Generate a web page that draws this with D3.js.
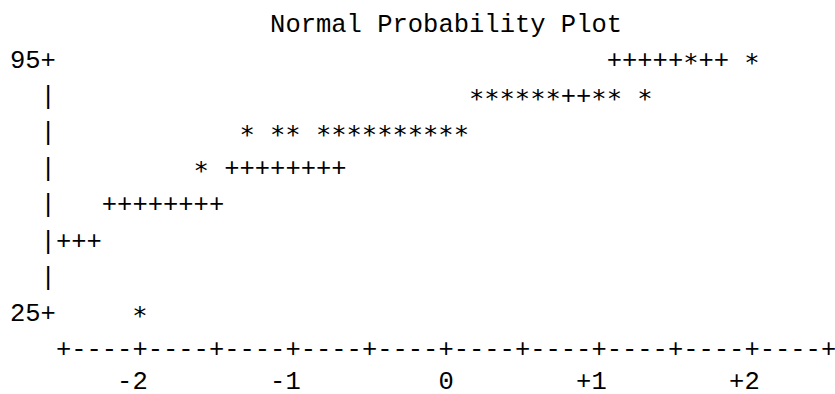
<!DOCTYPE html>
<html>
 <head>
  <title>Normal Probability Plot</title>
  <script src="https://cdnjs.cloudflare.com/ajax/libs/d3/7.8.3/d3.min.js"></script>
  <style>
   body { margin: 0; background: #fff; }
   text { font-family: "Liberation Mono", "DejaVu Sans Mono", monospace; font-size: 25.5px; fill: #000; }
   text.obs { font-family: "DejaVu Sans Mono", monospace; }
  </style>
 </head>
 <body>
  <script>
   const title = "Normal Probability Plot";

   // y tick labels and the value of each text row
   const yTicks = [95, 25];
   const yRows = [95, 85, 75, 65, 55, 45, 35, 25];

   // x tick values and their labels
   const xTicks = [-2, -1, 0, 1, 2];
   const xLabels = ["-2", "-1", "0", "+1", "+2"];

   // observations (*): normal quantile and value
   const obsQ = [1.6, 2.0,
                 0.2, 0.3, 0.4, 0.5, 0.6, 0.7, 1.0, 1.1, 1.3,
                 -1.3, -1.1, -1.0, -0.8, -0.7, -0.6, -0.5, -0.4, -0.3, -0.2, -0.1, 0.0, 0.1,
                 -1.6,
                 -2.0];
   const obsV = [95, 95,
                 85, 85, 85, 85, 85, 85, 85, 85, 85,
                 75, 75, 75, 75, 75, 75, 75, 75, 75, 75, 75, 75, 75,
                 65,
                 25];

   // reference line (+)
   const refQ = [1.1, 1.2, 1.3, 1.4, 1.5, 1.6, 1.7, 1.8,
                 0.2, 0.3, 0.4, 0.5, 0.6, 0.7, 0.8, 0.9,
                 -0.6, -0.5, -0.4, -0.3, -0.2, -0.1, 0.0, 0.1,
                 -1.4, -1.3, -1.2, -1.1, -1.0, -0.9, -0.8, -0.7,
                 -2.2, -2.1, -2.0, -1.9, -1.8, -1.7, -1.6, -1.5,
                 -2.5, -2.4, -2.3];
   const refV = [95, 95, 95, 95, 95, 95, 95, 95,
                 85, 85, 85, 85, 85, 85, 85, 85,
                 75, 75, 75, 75, 75, 75, 75, 75,
                 65, 65, 65, 65, 65, 65, 65, 65,
                 55, 55, 55, 55, 55, 55, 55, 55,
                 45, 45, 45];

   const w = 835, h = 394;
   const cw = 15.3;      // character cell width
   const lh = 36.1;      // line height
   const padL = 10, base0 = 68;
   const col = c => padL + cw * (c + 0.5);
   const row = r => base0 + lh * r;

   const x = d3.scaleLinear().domain([-2.5, 2.5]).range([col(3), col(53)]);
   const y = d3.scaleLinear().domain([25, 95]).range([row(7), row(0)]);

   const svg = d3.select("body").append("svg")
                 .attr("width", w)
                 .attr("height", h);

   svg.append("text")
      .attr("x", padL + cw * 17)
      .attr("y", row(-1))
      .text(title);

   // y axis
   svg.selectAll("text.yaxis")
      .data(yRows)
      .enter()
      .append("text")
      .attr("class", "yaxis")
      .attr("x", col(2))
      .attr("y", d => y(d))
      .attr("text-anchor", "middle")
      .text(d => yTicks.includes(d) ? "+" : "|");
   svg.selectAll("text.ylab")
      .data(yTicks)
      .enter()
      .append("text")
      .attr("class", "ylab")
      .attr("x", col(2) - cw / 2)
      .attr("y", d => y(d))
      .attr("text-anchor", "end")
      .text(d => d);

   // x axis
   const axisY = row(8);
   const steps = d3.range(-25, 26).map(i => i / 10);
   svg.selectAll("text.xaxis")
      .data(steps)
      .enter()
      .append("text")
      .attr("class", "xaxis")
      .attr("x", d => x(d))
      .attr("y", axisY)
      .attr("text-anchor", "middle")
      .text(d => Math.abs(Math.round(d * 10)) % 5 == 0 ? "+" : "-");
   svg.selectAll("text.xlab")
      .data(xTicks)
      .enter()
      .append("text")
      .attr("class", "xlab")
      .attr("x", d => x(d) + cw / 2)
      .attr("y", row(9) - 4)
      .attr("text-anchor", "end")
      .text((d, i) => xLabels[i]);

   // reference line, hidden where an observation sits on it
   const taken = new Set(obsQ.map((q, i) => q.toFixed(1) + "," + obsV[i]));
   const ref = refQ.map((q, i) => ({q: q, v: refV[i]}))
                   .filter(d => !taken.has(d.q.toFixed(1) + "," + d.v));
   svg.selectAll("text.ref")
      .data(ref)
      .enter()
      .append("text")
      .attr("class", "ref")
      .attr("x", d => x(d.q))
      .attr("y", d => y(d.v))
      .attr("text-anchor", "middle")
      .text("+");

   svg.selectAll("text.obs")
      .data(obsQ.map((q, i) => ({q: q, v: obsV[i]})))
      .enter()
      .append("text")
      .attr("class", "obs")
      .attr("x", d => x(d.q))
      .attr("y", d => y(d.v) + 3)
      .attr("text-anchor", "middle")
      .text("*");
  </script>
 </body>
</html>
